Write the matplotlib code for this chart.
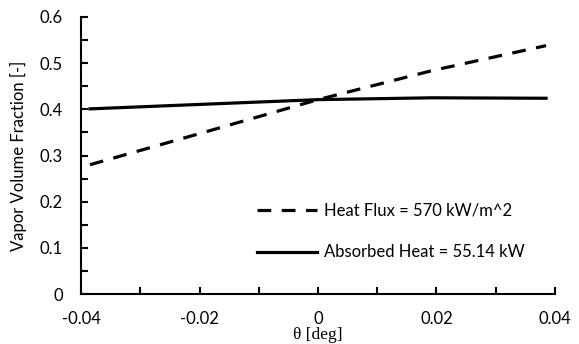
import matplotlib
matplotlib.use("Agg")
import matplotlib.pyplot as plt
from matplotlib.ticker import MultipleLocator

theta = [-0.0385, -0.0193, 0.0, 0.0193, 0.0385]
heat_flux = [0.280, 0.350, 0.421, 0.484, 0.538]
absorbed_heat = [0.401, 0.411, 0.421, 0.425, 0.424]
labels = ["Heat Flux = 570 kW/m^2", "Absorbed Heat = 55.14 kW"]
xticks = [-0.04, -0.02, 0, 0.02, 0.04]
xtick_labels = ["-0.04", "-0.02", "0", "0.02", "0.04"]
yticks = [0, 0.1, 0.2, 0.3, 0.4, 0.5, 0.6]
ytick_labels = ["0", "0.1", "0.2", "0.3", "0.4", "0.5", "0.6"]

plt.rcParams['font.family'] = ['Lato', 'DejaVu Sans']

fig = plt.figure(figsize=(5.79, 3.44), dpi=100)
ax = fig.add_axes([0.14, 0.1453, 0.8185, 0.8053])

ax.plot(theta, heat_flux, color='black', lw=2.3, dashes=(4.3, 3.3), label=labels[0])
ax.plot(theta, absorbed_heat, color='black', lw=2.3, label=labels[1])

ax.set_xlim(-0.04, 0.04)
ax.set_ylim(0, 0.6)
ax.set_xticks(xticks)
ax.set_xticklabels(xtick_labels)
ax.set_yticks(yticks)
ax.set_yticklabels(ytick_labels)
ax.xaxis.set_minor_locator(MultipleLocator(0.01))
ax.yaxis.set_minor_locator(MultipleLocator(0.05))

for side in ['top', 'right']:
    ax.spines[side].set_visible(False)
for side in ['left', 'bottom']:
    ax.spines[side].set_linewidth(1.5)

ax.tick_params(which='both', direction='in', width=1.5, length=5, labelsize=12)
ax.tick_params(axis='x', pad=12)
ax.tick_params(axis='y', pad=13)

ax.set_ylabel("Vapor Volume Fraction [-]", fontsize=12)
ax.yaxis.set_label_coords(-0.115, 0.5)
ax.set_xlabel("θ [deg]", fontsize=12.5, family=['Liberation Serif'])
ax.xaxis.set_label_coords(0.5, -0.119)

ax.legend(loc='upper left', bbox_to_anchor=(0.371, 0.33), frameon=False, fontsize=12,
          handlelength=3.6, handletextpad=0.4, labelspacing=1.55,
          borderaxespad=0, borderpad=0)

fig.savefig("out.png", dpi=100)
